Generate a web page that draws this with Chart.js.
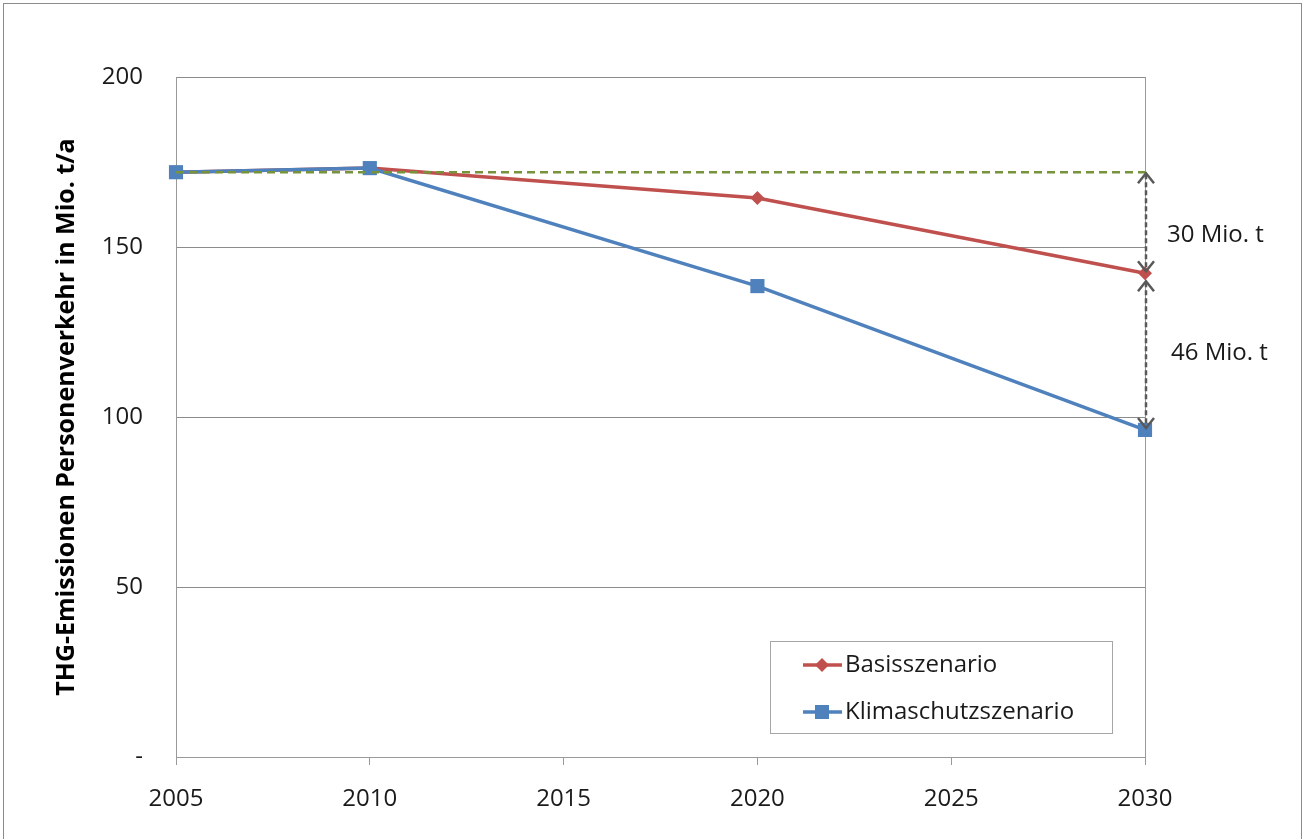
<!DOCTYPE html>
<html lang="de">
  <head>
    <meta charset="UTF-8" />
    <title>THG-Emissionen Personenverkehr</title>
    <script src="https://cdn.jsdelivr.net/npm/chart.js"></script>
    <style>
      body {
        margin: 0;
        padding: 0;
        background: #fff;
      }
      .chart-wrap {
        position: relative;
        width: 1303px;
        height: 839px;
      }
    </style>
  </head>
  <body>
    <div class="chart-wrap"><canvas id="chart"></canvas></div>

    <script>
      // data
      const years = [2005, 2010, 2020, 2030];
      const basis = [172, 173.2, 164.4, 142.3];
      const klima = [172, 173.2, 138.5, 96.2];
      const refYears = [2005, 2030];
      const refLevel = [172, 172];
      const gapLabels = ["30 Mio. t", "46 Mio. t"];
      const yTicks = [0, 50, 100, 150, 200];

      const FONT = "'Open Sans', sans-serif";
      const RED = "#c0504d";
      const BLUE = "#4f81bd";
      const GREEN = "#77933c";

      // outer frame, plot box, gap arrows and legend box
      const extras = {
        id: "extras",
        beforeDraw(chart) {
          const ctx = chart.ctx;
          ctx.save();
          ctx.strokeStyle = "#8c8c8c";
          ctx.lineWidth = 1;
          ctx.strokeRect(3.5, 3.5, 1298, 860);
          const a = chart.chartArea;
          ctx.strokeStyle = "#9a9a9a";
          ctx.strokeRect(a.left + 0.5, a.top + 0.5, a.right - a.left, a.bottom - a.top);
          ctx.restore();
        },
        afterDatasetsDraw(chart) {
          const ctx = chart.ctx;
          const x = chart.scales.x;
          const y = chart.scales.y;
          const last = years.length - 1;
          const px = x.getPixelForValue(years[last]) + 1;
          const yRef = y.getPixelForValue(refLevel[1]);
          const yBas = y.getPixelForValue(basis[last]);
          const yKli = y.getPixelForValue(klima[last]);

          function arrow(y1, y2) {
            ctx.save();
            ctx.strokeStyle = "#595959";
            ctx.lineWidth = 2.5;
            ctx.setLineDash([5, 3]);
            ctx.beginPath();
            ctx.moveTo(px, y1 + 2);
            ctx.lineTo(px, y2 - 2);
            ctx.stroke();
            ctx.setLineDash([]);
            ctx.lineJoin = "miter";
            ctx.beginPath();
            ctx.moveTo(px - 8, y1 + 11);
            ctx.lineTo(px, y1 + 1);
            ctx.lineTo(px + 8, y1 + 11);
            ctx.moveTo(px - 8, y2 - 11);
            ctx.lineTo(px, y2 - 1);
            ctx.lineTo(px + 8, y2 - 11);
            ctx.stroke();
            ctx.restore();
          }
          arrow(yRef, yBas - 1);
          arrow(yBas + 7, yKli - 1);

          ctx.save();
          ctx.fillStyle = "#1a1a1a";
          ctx.font = "24px " + FONT;
          ctx.textAlign = "left";
          ctx.textBaseline = "middle";
          ctx.fillText(gapLabels[0], px + 21, (yRef + yBas) / 2 + 12);
          ctx.fillText(gapLabels[1], px + 25, (yBas + yKli) / 2 + 2);
          ctx.restore();

          // legend
          const lx = 770, ly = 641, lw = 342, lh = 92;
          ctx.save();
          ctx.fillStyle = "#fff";
          ctx.fillRect(lx, ly, lw, lh);
          ctx.strokeStyle = "#a6a6a6";
          ctx.lineWidth = 1;
          ctx.strokeRect(lx + 0.5, ly + 0.5, lw, lh);
          const items = [chart.data.datasets[1], chart.data.datasets[2]];
          items.forEach((ds, i) => {
            const cy = ly + 24 + i * 47;
            ctx.strokeStyle = ds.borderColor;
            ctx.lineWidth = 3.5;
            ctx.beginPath();
            ctx.moveTo(lx + 33, cy);
            ctx.lineTo(lx + 72, cy);
            ctx.stroke();
            ctx.fillStyle = ds.backgroundColor;
            if (ds.pointStyle === "rectRot") {
              ctx.beginPath();
              ctx.moveTo(lx + 52, cy - 7);
              ctx.lineTo(lx + 59, cy);
              ctx.lineTo(lx + 52, cy + 7);
              ctx.lineTo(lx + 45, cy);
              ctx.closePath();
              ctx.fill();
            } else {
              ctx.fillRect(lx + 45, cy - 7, 14, 14);
            }
            ctx.fillStyle = "#1a1a1a";
            ctx.font = "24px " + FONT;
            ctx.textBaseline = "middle";
            ctx.fillText(ds.label, lx + 75, cy);
          });
          ctx.restore();
        },
      };

      new Chart(document.getElementById("chart"), {
        type: "line",
        data: {
          datasets: [
            {
              label: "Referenz",
              data: refYears.map((yr, i) => ({ x: yr, y: refLevel[i] })),
              borderColor: GREEN,
              borderWidth: 2.5,
              borderDash: [8, 5],
              pointRadius: 0,
              order: 0,
              clip: false,
            },
            {
              label: "Basisszenario",
              data: years.map((yr, i) => ({ x: yr, y: basis[i] })),
              borderColor: RED,
              backgroundColor: RED,
              borderWidth: 3.5,
              pointStyle: "rectRot",
              pointRadius: 7,
              pointBorderWidth: 0,
              order: 2,
              clip: false,
            },
            {
              label: "Klimaschutzszenario",
              data: years.map((yr, i) => ({ x: yr, y: klima[i] })),
              borderColor: BLUE,
              backgroundColor: BLUE,
              borderWidth: 3.5,
              pointStyle: "rect",
              pointRadius: 10,
              pointBorderWidth: 0,
              order: 1,
              clip: false,
            },
          ],
        },
        options: {
          responsive: true,
          maintainAspectRatio: false,
          animation: false,
          layout: { padding: { left: 52, top: 77, right: 158, bottom: 0 } },
          plugins: {
            legend: { display: false },
            tooltip: { enabled: false },
          },
          scales: {
            x: {
              type: "linear",
              min: 2005,
              max: 2030,
              ticks: {
                stepSize: 5,
                color: "#1a1a1a",
                font: { family: FONT, size: 24 },
                padding: 20,
                callback: (v) => String(v),
              },
              grid: {
                drawOnChartArea: false,
                drawTicks: true,
                tickLength: 8,
                color: "#9a9a9a",
              },
              border: { color: "#9a9a9a" },
              afterFit: (s) => { s.height = 82; },
            },
            y: {
              min: 0,
              max: 200,
              afterBuildTicks: (s) => { s.ticks = yTicks.map((v) => ({ value: v })); },
              ticks: {
                color: "#1a1a1a",
                font: { family: FONT, size: 24 },
                padding: 33,
                callback: (v) => (v === 0 ? "-" : String(v)),
              },
              grid: { drawTicks: false, color: "#8c8c8c" },
              border: { color: "#9a9a9a" },
              title: {
                display: true,
                text: "THG-Emissionen Personenverkehr in Mio. t/a",
                color: "#000",
                font: { family: FONT, size: 25, weight: "bold" },
                padding: { top: 0, bottom: 0 },
              },
              afterFit: (s) => { s.width = 124; },
            },
          },
        },
        plugins: [extras],
      });
    </script>
  </body>
</html>
